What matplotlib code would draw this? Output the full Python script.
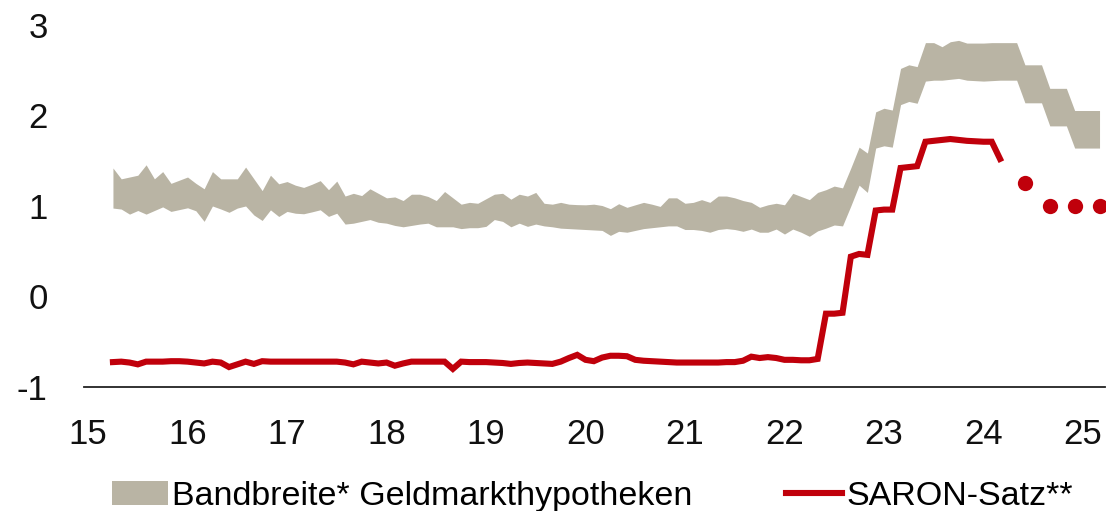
import numpy as np
import matplotlib
matplotlib.use("Agg")
import matplotlib.pyplot as plt
from matplotlib.patches import Patch
from matplotlib.lines import Line2D

plt.rcParams['font.family'] = ['Liberation Sans Narrow', 'Liberation Sans', 'DejaVu Sans']

# Monthly data, April 2015 .. March 2025 (x in years, 15 = 2015)
start_year = 15.25
n_months = 120

band_upper = [
    1.42, 1.30, 1.32, 1.34, 1.455, 1.30, 1.38, 1.25, 1.285, 1.32,
    1.25, 1.19, 1.38, 1.30, 1.30, 1.30, 1.43, 1.30, 1.17, 1.34,
    1.245, 1.27, 1.23, 1.205, 1.24, 1.28, 1.18, 1.275, 1.11, 1.14,
    1.115, 1.19, 1.14, 1.09, 1.10, 1.06, 1.13, 1.13, 1.105, 1.06,
    1.16, 1.09, 1.02, 1.04, 1.03, 1.08, 1.13, 1.14, 1.075, 1.13,
    1.11, 1.15, 1.03, 1.02, 1.04, 1.02, 1.015, 1.013, 1.02, 1.005,
    0.97, 1.025, 0.985, 1.013, 1.04, 1.02, 0.995, 1.09, 1.09, 1.03,
    1.04, 1.07, 1.04, 1.11, 1.11, 1.09, 1.06, 1.04, 0.985, 1.013,
    1.03, 1.013, 1.14, 1.105, 1.07, 1.15, 1.18, 1.22, 1.20, 1.42,
    1.65, 1.585, 2.04, 2.08, 2.06, 2.52, 2.56, 2.54, 2.805, 2.805,
    2.76, 2.815, 2.83, 2.80, 2.80, 2.80, 2.805, 2.805, 2.805, 2.805,
    2.56, 2.56, 2.56, 2.30, 2.30, 2.30, 2.055, 2.055, 2.055, 2.055,
]

band_lower = [
    0.977, 0.966, 0.91, 0.95, 0.91, 0.95, 0.99, 0.94, 0.96, 0.98,
    0.947, 0.83, 1.0, 0.967, 0.93, 0.977, 1.0, 0.90, 0.84, 0.957,
    0.884, 0.94, 0.92, 0.914, 0.935, 0.958, 0.885, 0.92, 0.80, 0.81,
    0.83, 0.85, 0.82, 0.81, 0.785, 0.77, 0.785, 0.80, 0.81, 0.77,
    0.77, 0.77, 0.75, 0.76, 0.76, 0.775, 0.85, 0.83, 0.77, 0.81,
    0.775, 0.80, 0.78, 0.77, 0.755, 0.75, 0.745, 0.74, 0.735, 0.73,
    0.675, 0.72, 0.71, 0.73, 0.75, 0.76, 0.77, 0.78, 0.78, 0.74,
    0.74, 0.73, 0.71, 0.74, 0.75, 0.74, 0.72, 0.745, 0.71, 0.71,
    0.745, 0.69, 0.745, 0.71, 0.665, 0.725, 0.755, 0.79, 0.78, 1.0,
    1.23, 1.15, 1.64, 1.665, 1.65, 2.12, 2.155, 2.135, 2.38, 2.39,
    2.39, 2.40, 2.41, 2.39, 2.385, 2.38, 2.385, 2.39, 2.39, 2.39,
    2.14, 2.14, 2.14, 1.885, 1.885, 1.885, 1.64, 1.64, 1.64, 1.64,
]

saron = [
    -0.725, -0.72, -0.73, -0.75, -0.72, -0.72, -0.72, -0.715, -0.715, -0.72,
    -0.73, -0.74, -0.72, -0.73, -0.78, -0.75, -0.72, -0.745, -0.715, -0.72,
    -0.72, -0.72, -0.72, -0.72, -0.72, -0.72, -0.72, -0.72, -0.73, -0.75,
    -0.72, -0.73, -0.74, -0.73, -0.765, -0.74, -0.72, -0.72, -0.72, -0.72,
    -0.72, -0.80, -0.72, -0.725, -0.725, -0.725, -0.73, -0.735, -0.745, -0.735,
    -0.73, -0.735, -0.74, -0.745, -0.72, -0.68, -0.645, -0.70, -0.715, -0.675,
    -0.655, -0.655, -0.66, -0.70, -0.71, -0.715, -0.72, -0.725, -0.73, -0.73,
    -0.73, -0.73, -0.73, -0.73, -0.725, -0.725, -0.71, -0.665, -0.68, -0.67,
    -0.68, -0.70, -0.70, -0.705, -0.705, -0.69, -0.19, -0.19, -0.18, 0.44,
    0.47, 0.46, 0.95, 0.96, 0.96, 1.42, 1.43, 1.44, 1.71, 1.72,
    1.73, 1.74, 1.73, 1.72, 1.715, 1.71, 1.71, 1.52,
]

forecast_month_idx = [110, 113, 116, 119]
saron_forecast = [1.25, 1.0, 1.0, 1.0]

x_ticks = [15, 16, 17, 18, 19, 20, 21, 22, 23, 24, 25]
y_ticks = [-1, 0, 1, 2, 3]

band_color = '#B9B4A4'
red = '#C0000B'

months = start_year + np.arange(n_months) / 12.0

fig = plt.figure(figsize=(11.16, 5.11), dpi=100)
ax = fig.add_axes([0.075, 0.2427, 0.915, 0.7084])

ax.fill_between(months, band_lower, band_upper, color=band_color, lw=0)
ax.plot(months[:len(saron)], saron, color=red, lw=4.4, solid_joinstyle='miter')
ax.plot(months[forecast_month_idx], saron_forecast, 'o', color=red, ms=11, mec='none')

ax.set_xlim(14.956, 25.22)
ax.set_ylim(-1, 3)
ax.set_xticks(x_ticks)
ax.set_xticklabels([str(t) for t in x_ticks])
ax.set_yticks(y_ticks)
ax.set_yticklabels([str(t) for t in y_ticks])
for s in ['top', 'right', 'left']:
    ax.spines[s].set_visible(False)
ax.spines['bottom'].set_color('#222222')
ax.spines['bottom'].set_linewidth(1.3)
ax.tick_params(axis='both', length=0, labelsize=25, colors='#111111')
ax.tick_params(axis='x', pad=22)
ax.tick_params(axis='y', pad=26)

handles = [Patch(facecolor=band_color, edgecolor='none'),
           Line2D([0], [0], color=red, lw=4.4)]
labels = ['Bandbreite* Geldmarkthypotheken', 'SARON-Satz**']
fig.legend(handles, labels, loc='lower left', bbox_to_anchor=(0.088, -0.028),
           ncol=2, frameon=False, fontsize=24.5, handlelength=1.65, handleheight=0.72,
           handletextpad=0.12, columnspacing=2.75, borderaxespad=0)

fig.savefig('out.png', dpi=100)
